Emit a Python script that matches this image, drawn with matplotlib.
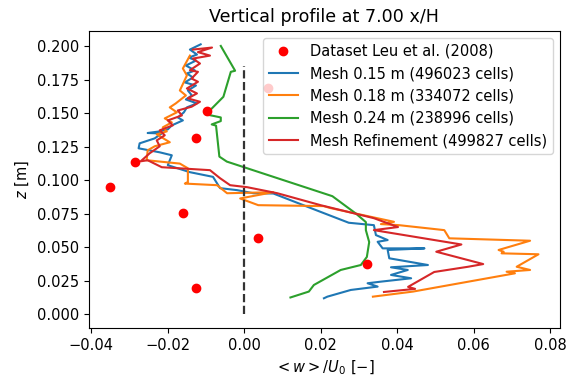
import matplotlib.pyplot as plt
import numpy as np

plt.rcParams['font.size'] = 10.5

# Dataset Leu et al. (2008)
exp_w = [-0.01261, 0.03206, 0.00350, -0.01603, -0.03503, -0.02865, -0.01261, -0.00965, 0.00630]
exp_z = [0.0195, 0.0375, 0.0571, 0.0757, 0.0950, 0.1134, 0.1317, 0.1513, 0.1691]

# Mesh 0.15 m
w_015 = [-0.01138, -0.01419, -0.01235, -0.01445, -0.01261, -0.01524, -0.01288, -0.01498, -0.01340, -0.01551,
         -0.01261, -0.01472, -0.01367, -0.01524, -0.01235, -0.01498, -0.01577, -0.01735, -0.01603, -0.01892,
         -0.01997, -0.02208, -0.02523, -0.02155, -0.02339, -0.02733, -0.02760, -0.02208, -0.01892, -0.01997,
         -0.01419, -0.00815, -0.00631, -0.00184, 0.00237, 0.00762, 0.01997, 0.02733, 0.03390, 0.03443,
         0.03750, 0.03488, 0.03619, 0.04712, 0.03750, 0.03792, 0.04802, 0.03837, 0.04276, 0.03837,
         0.04363, 0.03574, 0.03225, 0.03488, 0.02786, 0.02173, 0.02084]
z_015 = [0.2013, 0.1974, 0.1937, 0.1914, 0.1892, 0.1855, 0.1818, 0.1796, 0.1766, 0.1729,
         0.1706, 0.1669, 0.1632, 0.1602, 0.1573, 0.1543, 0.1506, 0.1468, 0.1446, 0.1409,
         0.1379, 0.1364, 0.1352, 0.1349, 0.1312, 0.1275, 0.1238, 0.1208, 0.1186, 0.1112,
         0.1060, 0.1025, 0.0941, 0.0926, 0.0903, 0.0901, 0.0764, 0.0683, 0.0665, 0.0591,
         0.0554, 0.0541, 0.0492, 0.0492, 0.0480, 0.0418, 0.0368, 0.0351, 0.0331, 0.0294,
         0.0269, 0.0244, 0.0232, 0.0207, 0.0182, 0.0132, 0.0120]

# Mesh 0.18 m
w_018 = [-0.01419, -0.01603, -0.01498, -0.01682, -0.01524, -0.01787, -0.01945, -0.01761, -0.02076, -0.01892,
         -0.02129, -0.02024, -0.02286, -0.01945, -0.02339, -0.02523, -0.02549, -0.01682, -0.01472, -0.01472,
         -0.01551, -0.00710, -0.00447, 0.00762, -0.00105, 0.00368, 0.02076, 0.02260, 0.03916, 0.03574,
         0.04047, 0.05230, 0.05361, 0.07472, 0.06649, 0.06781, 0.06728, 0.07692, 0.07122, 0.07472,
         0.06859, 0.07077, 0.04415, 0.03364]
z_018 = [0.1929, 0.1833, 0.1781, 0.1669, 0.1632, 0.1573, 0.1543, 0.1506, 0.1461, 0.1431,
         0.1394, 0.1364, 0.1342, 0.1283, 0.1253, 0.1223, 0.1149, 0.1124, 0.1089, 0.0987,
         0.0975, 0.0963, 0.0903, 0.0911, 0.0864, 0.0814, 0.0807, 0.0792, 0.0690, 0.0673,
         0.0665, 0.0628, 0.0567, 0.0549, 0.0480, 0.0467, 0.0455, 0.0448, 0.0355, 0.0331,
         0.0318, 0.0306, 0.0170, 0.0132]

# Mesh 0.24 m
w_024 = [-0.00612, -0.00237, -0.00350, -0.00544, -0.00999, -0.00612, -0.00612, -0.00849, -0.00736, -0.00649,
         -0.00586, -0.00455, 0.02305, 0.02917, 0.03180, 0.03180, 0.03267, 0.03206, 0.03049, 0.02523,
         0.01821, 0.01690, 0.01209]
z_024 = [0.2001, 0.1816, 0.1808, 0.1622, 0.1491, 0.1468, 0.1441, 0.1416, 0.1407, 0.1176,
         0.1164, 0.1139, 0.0881, 0.0752, 0.0688, 0.0628, 0.0539, 0.0428, 0.0368, 0.0331,
         0.0219, 0.0170, 0.0126]

# Mesh Refinement
w_ref = [-0.01340, -0.00841, -0.01209, -0.00894, -0.01340, -0.01156, -0.01419, -0.01209, -0.01375, -0.01209,
         -0.01498, -0.01235, -0.01472, -0.01156, -0.01375, -0.01735, -0.01629, -0.01997, -0.01866, -0.02208,
         -0.02076, -0.02286, -0.02208, -0.02470, -0.02707, -0.02523, -0.02155, -0.00894, -0.00631, -0.00368,
         0.00079, 0.00867, 0.01997, 0.03390, 0.04021, 0.03390, 0.05677, 0.05020, 0.06247, 0.05853,
         0.04967, 0.04284, 0.04468, 0.03653]
z_ref = [0.1974, 0.1989, 0.1955, 0.1929, 0.1907, 0.1870, 0.1820, 0.1808, 0.1758, 0.1734,
         0.1684, 0.1647, 0.1610, 0.1585, 0.1548, 0.1520, 0.1483, 0.1446, 0.1409, 0.1372,
         0.1335, 0.1297, 0.1253, 0.1201, 0.1141, 0.1149, 0.1097, 0.1075, 0.1015, 0.0963,
         0.0948, 0.0903, 0.0814, 0.0717, 0.0651, 0.0628, 0.0521, 0.0467, 0.0375, 0.0355,
         0.0316, 0.0205, 0.0190, 0.0167]

zero_line_z = [0.0, 0.185]

fig = plt.figure(figsize=(5.69, 3.76), dpi=100)
ax = fig.add_subplot(111)
fig.subplots_adjust(left=0.156, right=0.984, top=0.918, bottom=0.128)

ax.plot(exp_w, exp_z, 'o', color='red', markersize=6, label='Dataset Leu et al. (2008)', zorder=4)
ax.plot(w_015, z_015, color='tab:blue', label='Mesh 0.15 m (496023 cells)')
ax.plot(w_018, z_018, color='tab:orange', label='Mesh 0.18 m (334072 cells)')
ax.plot(w_024, z_024, color='tab:green', label='Mesh 0.24 m (238996 cells)')
ax.plot(w_ref, z_ref, color='tab:red', label='Mesh Refinement (499827 cells)')
ax.plot([0, 0], zero_line_z, '--', color='0.2', linewidth=1.6)

ax.set_title('Vertical profile at 7.00 x/H')
ax.set_xlabel(r'$<w>/U_0$ $[-]$')
ax.set_ylabel(r'$z$ [m]')
ax.set_yticks(np.arange(0, 0.201, 0.025))
ax.legend(loc='upper right')

plt.savefig('out.png', dpi=100)
